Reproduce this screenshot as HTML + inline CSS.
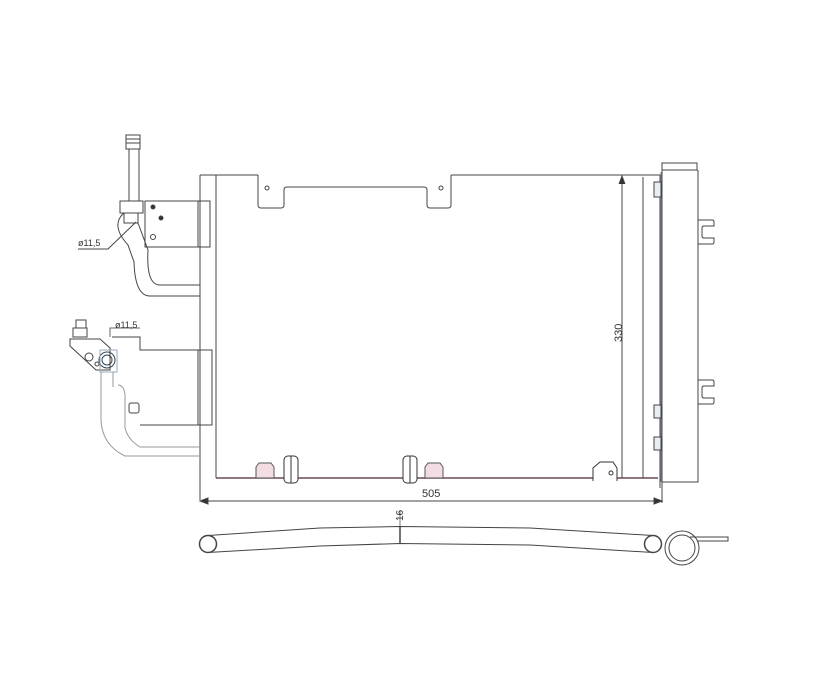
<!DOCTYPE html>
<html><head><style>html,body{margin:0;padding:0;background:#fff}svg{display:block}</style></head>
<body>
<svg width="820" height="680" viewBox="0 0 820 680" xmlns="http://www.w3.org/2000/svg" fill="none" stroke="#444" stroke-width="1" font-family="Liberation Sans, sans-serif">
<!-- core -->
<path d="M200 175 H258 M451 175 H661"/>
<path d="M200 175 V500 M216 175 V478"/>
<path d="M258 175 V205 Q258 208 261 208 H281 Q284 208 284 205 V190 Q284 187 287 187 H424 Q427 187 427 190 V205 Q427 208 430 208 H448 Q451 208 451 205 V175"/>
<circle cx="267" cy="188" r="2"/><circle cx="441" cy="188" r="2"/>
<path d="M216 478 H658" stroke="#6a4a50" stroke-width="1.5"/>
<!-- bottom clips -->
<g fill="#f3dde2" stroke="#555">
<path d="M256 478 V467 L259 463 H271 L274 467 V478 Z"/>
<path d="M425 478 V467 L428 463 H440 L443 467 V478 Z"/>
</g>
<g fill="#fff" stroke="#333">
<rect x="284" y="456" width="14" height="27" rx="4"/><path d="M291 456 V483"/>
<rect x="403" y="456" width="14" height="27" rx="4"/><path d="M410 456 V483"/>
<path d="M593 481 V468 L600 462 H613 L617 468 V481"/><circle cx="611" cy="473" r="2"/>
</g>
<!-- right -->
<path d="M622 177 V478"/><path d="M619 184 L622 176 L625 184" fill="#333"/>
<text x="0" y="0" font-size="11" fill="#333" stroke="none" transform="translate(622,342) rotate(-90)">330</text>
<path d="M643 177 V478"/>
<path d="M660 175 V488"/>
<path d="M662 170 H697 V163 H662 Z"/>
<path d="M662 170 V482 H698 V220 H712 Q714 220 714 222 V226 H704 Q702 226 702 228 V236 Q702 238 704 238 H714 V242 Q714 244 712 244 H698"/>
<path d="M698 170 V220"/>
<path d="M698 244 V380 H712 Q714 380 714 382 V386 H704 Q702 386 702 388 V396 Q702 398 704 398 H714 V402 Q714 404 712 404 H698"/>
<path d="M661 172 V482" stroke="#88a"/>
<g fill="#e8eef4"><rect x="654" y="182" width="7" height="15"/><rect x="654" y="405" width="7" height="13"/><rect x="654" y="437" width="7" height="13"/></g>
<!-- 505 dim -->
<path d="M200 501 H662"/><path d="M208 498 L200 501 L208 504 Z M654 498 L662 501 L654 504 Z" fill="#333"/>
<path d="M662 482 V503"/>
<text x="422" y="497" font-size="11" fill="#333" stroke="none">505</text>
<!-- top left fitting -->
<rect x="126" y="135" width="14" height="14"/><path d="M126 139 H140 M126 143 H140"/>
<rect x="129" y="149" width="10" height="52"/>
<rect x="120" y="201" width="23" height="12"/><rect x="124" y="213" width="14" height="10"/>
<rect x="145" y="201" width="53" height="46"/><rect x="198" y="201" width="12" height="46"/>
<circle cx="153" cy="207" r="2" fill="#333"/><circle cx="161" cy="218" r="2" fill="#333"/><circle cx="153" cy="237" r="2.5"/>
<path d="M124 213 Q110 225 128 245 L134 262 Q135 296 150 296 H200"/>
<path d="M138 223 L148 250 Q146 285 160 285 H200"/>
<path d="M78 249 H108 L136 222"/>
<text x="78" y="246" font-size="9" fill="#333" stroke="none">ø11,5</text>
<!-- lower left fitting -->
<rect x="76" y="320" width="10" height="8"/><rect x="73" y="328" width="14" height="9"/>
<path d="M70 339 V346 L96 370 H110 V348 L100 339 Z"/>
<circle cx="89" cy="357" r="4"/><circle cx="97" cy="364" r="2"/>
<circle cx="107" cy="360" r="8" stroke="#345"/><circle cx="107" cy="360" r="5" stroke="#345"/>
<rect x="100" y="350" width="17" height="22" stroke="#9ab"/>
<path d="M112 337 H140 V350 H198 V425 H140" />
<rect x="198" y="350" width="14" height="75"/>
<rect x="129" y="403" width="10" height="10" rx="2"/>
<path d="M110 337 V328 H140" stroke="#666"/>
<text x="115" y="328" font-size="9" fill="#333" stroke="none">ø11,5</text>
<path d="M101 372 V420 Q102 445 125 456 H200" stroke="#999"/>
<path d="M113 372 V387 M118 385 Q124 385 125 395 V428 Q128 440 140 447 H200" stroke="#999"/>
<!-- bottom view -->
<circle cx="208" cy="544" r="8.5" stroke-width="1.5"/>
<path d="M208 535.5 L320 528 L400 526.5 L530 528 L653 535.5"/>
<path d="M208 552.5 L320 546 L400 543.5 L530 545 L653 552.5"/>
<circle cx="653" cy="544" r="8.5" stroke-width="1.5"/>
<circle cx="682" cy="548" r="17"/><circle cx="682" cy="548" r="13"/>
<path d="M690 537 H728 V541 H697"/>
<path d="M400 510 V526" stroke-width="0.7"/>
<path d="M400 526 V543" stroke-width="1.5"/>
<text x="0" y="0" font-size="10" fill="#333" stroke="none" transform="translate(403,521) rotate(-90)">16</text>
</svg>
</body></html>
